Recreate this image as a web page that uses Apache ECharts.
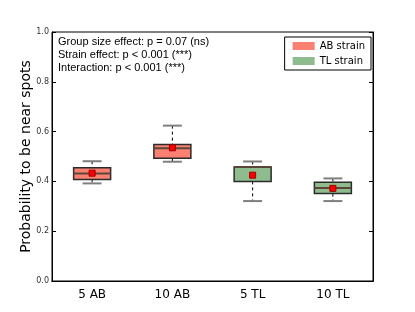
<!DOCTYPE html>
<html><head><meta charset="utf-8">
<script src="https://cdn.jsdelivr.net/npm/echarts@6/dist/echarts.min.js"></script>
<style>html,body{margin:0;padding:0;background:#fff}#c{width:415px;height:312px}</style>
</head><body><div id="c"></div>
<script>
const categories = ['5 AB', '10 AB', '5 TL', '10 TL'];
const whiskerLow = [0.392, 0.479, 0.321, 0.321];
const q1 = [0.408, 0.493, 0.400, 0.351];
const median = [0.432, 0.533, 0.458, 0.373];
const q3 = [0.455, 0.548, 0.456, 0.397];
const whiskerHigh = [0.481, 0.624, 0.480, 0.412];
const means = [0.433, 0.535, 0.425, 0.372];
const strainOf = ['AB strain', 'AB strain', 'TL strain', 'TL strain'];
const yTicks = [0, 0.2, 0.4, 0.6, 0.8, 1.0];
const annotations = ['Group size effect: p = 0.07 (ns)', 'Strain effect: p < 0.001 (***)', 'Interaction: p < 0.001 (***)'];
const colors = {'AB strain': '#fa8072', 'TL strain': '#8fbc8f'};

function buildData(name) {
  const out = [];
  categories.forEach((c, i) => {
    if (strainOf[i] === name) out.push([i, whiskerLow[i], q1[i], median[i], Math.max(q3[i], median[i]), whiskerHigh[i], means[i]]);
  });
  return out;
}

function renderItem(params, api) {
  const x = api.value(0);
  const lo = api.coord([x, api.value(1)]);
  const b1 = api.coord([x, api.value(2)]);
  const md = api.coord([x, api.value(3)]);
  const b3 = api.coord([x, api.value(4)]);
  const hi = api.coord([x, api.value(5)]);
  const mn = api.coord([x, api.value(6)]);
  const cx = lo[0];
  const bw = 37, cw = 19;
  const fill = api.visual('color');
  const children = [
    {type: 'line', shape: {x1: cx, y1: hi[1], x2: cx, y2: b3[1]}, style: {stroke: '#000', lineWidth: 1, lineDash: [3, 3]}},
    {type: 'line', shape: {x1: cx, y1: b1[1], x2: cx, y2: lo[1]}, style: {stroke: '#000', lineWidth: 1, lineDash: [3, 3]}},
    {type: 'line', shape: {x1: cx - cw / 2, y1: hi[1], x2: cx + cw / 2, y2: hi[1]}, style: {stroke: '#7f7f7f', lineWidth: 2}},
    {type: 'line', shape: {x1: cx - cw / 2, y1: lo[1], x2: cx + cw / 2, y2: lo[1]}, style: {stroke: '#7f7f7f', lineWidth: 2}},
    {type: 'rect', shape: {x: cx - bw / 2, y: b3[1], width: bw, height: b1[1] - b3[1]}, style: {fill: fill, stroke: '#2b2b2b', lineWidth: 1.5}},
    {type: 'line', shape: {x1: cx - bw / 2, y1: md[1], x2: cx + bw / 2, y2: md[1]}, style: {stroke: '#5a4638', lineWidth: 2}},
    {type: 'rect', shape: {x: cx - 3, y: mn[1] - 3, width: 6, height: 6}, style: {fill: '#ff0000', stroke: '#9a0000', lineWidth: 1}}
  ];
  return {type: 'group', children: children};
}

const chart = echarts.init(document.getElementById('c'), null, {renderer: 'canvas'});
const grid = {left: 52, right: 42, top: 32, bottom: 31, show: true, borderColor: '#000', borderWidth: 1, backgroundColor: 'transparent'};
chart.setOption({
  animation: false,
  grid: grid,
  legend: {
    data: ['AB strain', 'TL strain'],
    orient: 'vertical', right: 44, top: 37,
    icon: 'rect', itemWidth: 22, itemHeight: 8, itemGap: 5,
    borderColor: '#000', borderWidth: 1, padding: [4, 6, 4, 8],
    textStyle: {fontFamily: 'DejaVu Sans', fontSize: 10, color: '#000'}
  },
  xAxis: [
    {type: 'category', data: categories, boundaryGap: true,
      axisLine: {lineStyle: {color: '#000'}},
      axisTick: {inside: true, alignWithLabel: true, length: 4, lineStyle: {color: '#000'}},
      axisLabel: {fontFamily: 'DejaVu Sans', fontSize: 12, color: '#000', margin: 8},
      splitLine: {show: false}},
    {type: 'category', data: categories, position: 'top', boundaryGap: true,
      axisLine: {lineStyle: {color: '#000'}},
      axisTick: {inside: true, alignWithLabel: true, length: 4, lineStyle: {color: '#000'}},
      axisLabel: {show: false}, splitLine: {show: false}}
  ],
  yAxis: [
    {type: 'value', min: 0, max: 1, interval: 0.2,
      name: 'Probability to be near spots', nameLocation: 'middle', nameGap: 19, nameMoveOverlap: false,
      nameTextStyle: {fontFamily: 'DejaVu Sans', fontSize: 14, color: '#000'},
      axisLine: {show: true, lineStyle: {color: '#000'}},
      axisTick: {show: true, inside: true, length: 4, lineStyle: {color: '#000'}},
      axisLabel: {fontFamily: 'DejaVu Sans', fontSize: 8, color: '#333', margin: 3,
        formatter: v => { const t = yTicks.find(y => Math.abs(y - v) < 1e-9); return (t === undefined ? v : t).toFixed(1); }},
      splitLine: {show: false}},
    {type: 'value', min: 0, max: 1, interval: 0.2, position: 'right',
      axisLine: {show: true, lineStyle: {color: '#000'}},
      axisTick: {show: true, inside: true, length: 4, lineStyle: {color: '#000'}},
      axisLabel: {show: false}, splitLine: {show: false}}
  ],
  graphic: annotations.map((t, i) => ({
    type: 'text', left: 58, top: 36 + i * 13,
    style: {text: t, font: '11px "Liberation Sans"', fill: '#000'}
  })),
  series: ['AB strain', 'TL strain'].map(name => ({
    name: name, type: 'custom', renderItem: renderItem,
    itemStyle: {color: colors[name]},
    encode: {x: 0, y: [1, 2, 3, 4, 5]},
    data: buildData(name)
  }))
});
</script></body></html>
